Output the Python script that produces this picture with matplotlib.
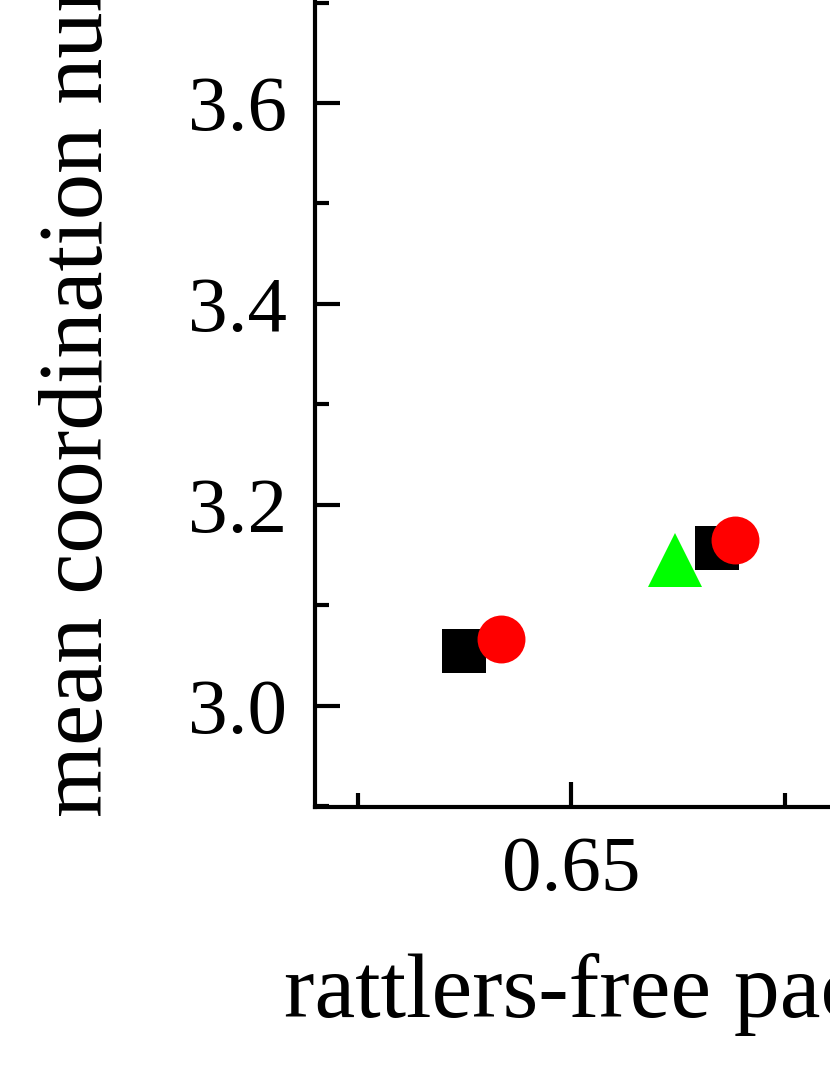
import matplotlib
matplotlib.use('Agg')
import matplotlib.pyplot as plt
from matplotlib.ticker import MultipleLocator

plt.rcParams['font.family'] = ['Liberation Serif', 'DejaVu Serif']

# data
square_x = [0.6375, 0.6671]
square_y = [3.055, 3.157]
circle_x = [0.6418, 0.6692]
circle_y = [3.067, 3.165]
triangle_x = [0.6622]
triangle_y = [3.145]

W, H = 830, 1075
fig = plt.figure(figsize=(W / 100, H / 100), dpi=100)

# axes runs past the top and right edges of the picture (cropped figure)
ax_left, ax_bottom = 315, 806.5
px_x, px_y = 8540, 1005
xlim = (0.62, 0.72)
ylim = (2.9, 4.0)
ax = fig.add_axes([ax_left / W, (H - ax_bottom) / H,
                   (xlim[1] - xlim[0]) * px_x / W,
                   (ylim[1] - ylim[0]) * px_y / H])

ax.plot(square_x, square_y, 's', color='black', ms=31.5, mew=0, clip_on=False)
ax.plot(circle_x, circle_y, 'o', color='red', ms=34.5, mew=0, clip_on=False)
ax.plot(triangle_x, triangle_y, '^', color='#00ff00', ms=39, mew=0, clip_on=False)

ax.set_xlim(xlim)
ax.set_ylim(ylim)
ax.xaxis.set_major_locator(MultipleLocator(0.05))
ax.xaxis.set_minor_locator(MultipleLocator(0.025))
ax.yaxis.set_major_locator(MultipleLocator(0.2))
ax.yaxis.set_minor_locator(MultipleLocator(0.1))
ax.xaxis.set_major_formatter(lambda v, p: f'{v:.2f}')
ax.yaxis.set_major_formatter(lambda v, p: f'{v:.1f}')

for s in ['top', 'right']:
    ax.spines[s].set_visible(False)
for s in ['left', 'bottom']:
    ax.spines[s].set_linewidth(3)

ax.tick_params(which='both', direction='in', width=3, labelsize=57)
ax.tick_params(which='major', length=18)
ax.tick_params(which='minor', length=10)
ax.tick_params(axis='x', pad=21)
ax.tick_params(axis='y', pad=20)

ax.set_xlabel('rattlers-free packing fraction', fontsize=66, ha='left', va='baseline')
ax.xaxis.set_label_coords(284 / W, 1 - 1017 / H, transform=fig.transFigure)
ax.set_ylabel('mean coordination number', fontsize=66.5, ha='left', va='baseline')
ax.yaxis.set_label_coords(102 / W, 1 - 817 / H, transform=fig.transFigure)

fig.savefig('out.png', dpi=100)
